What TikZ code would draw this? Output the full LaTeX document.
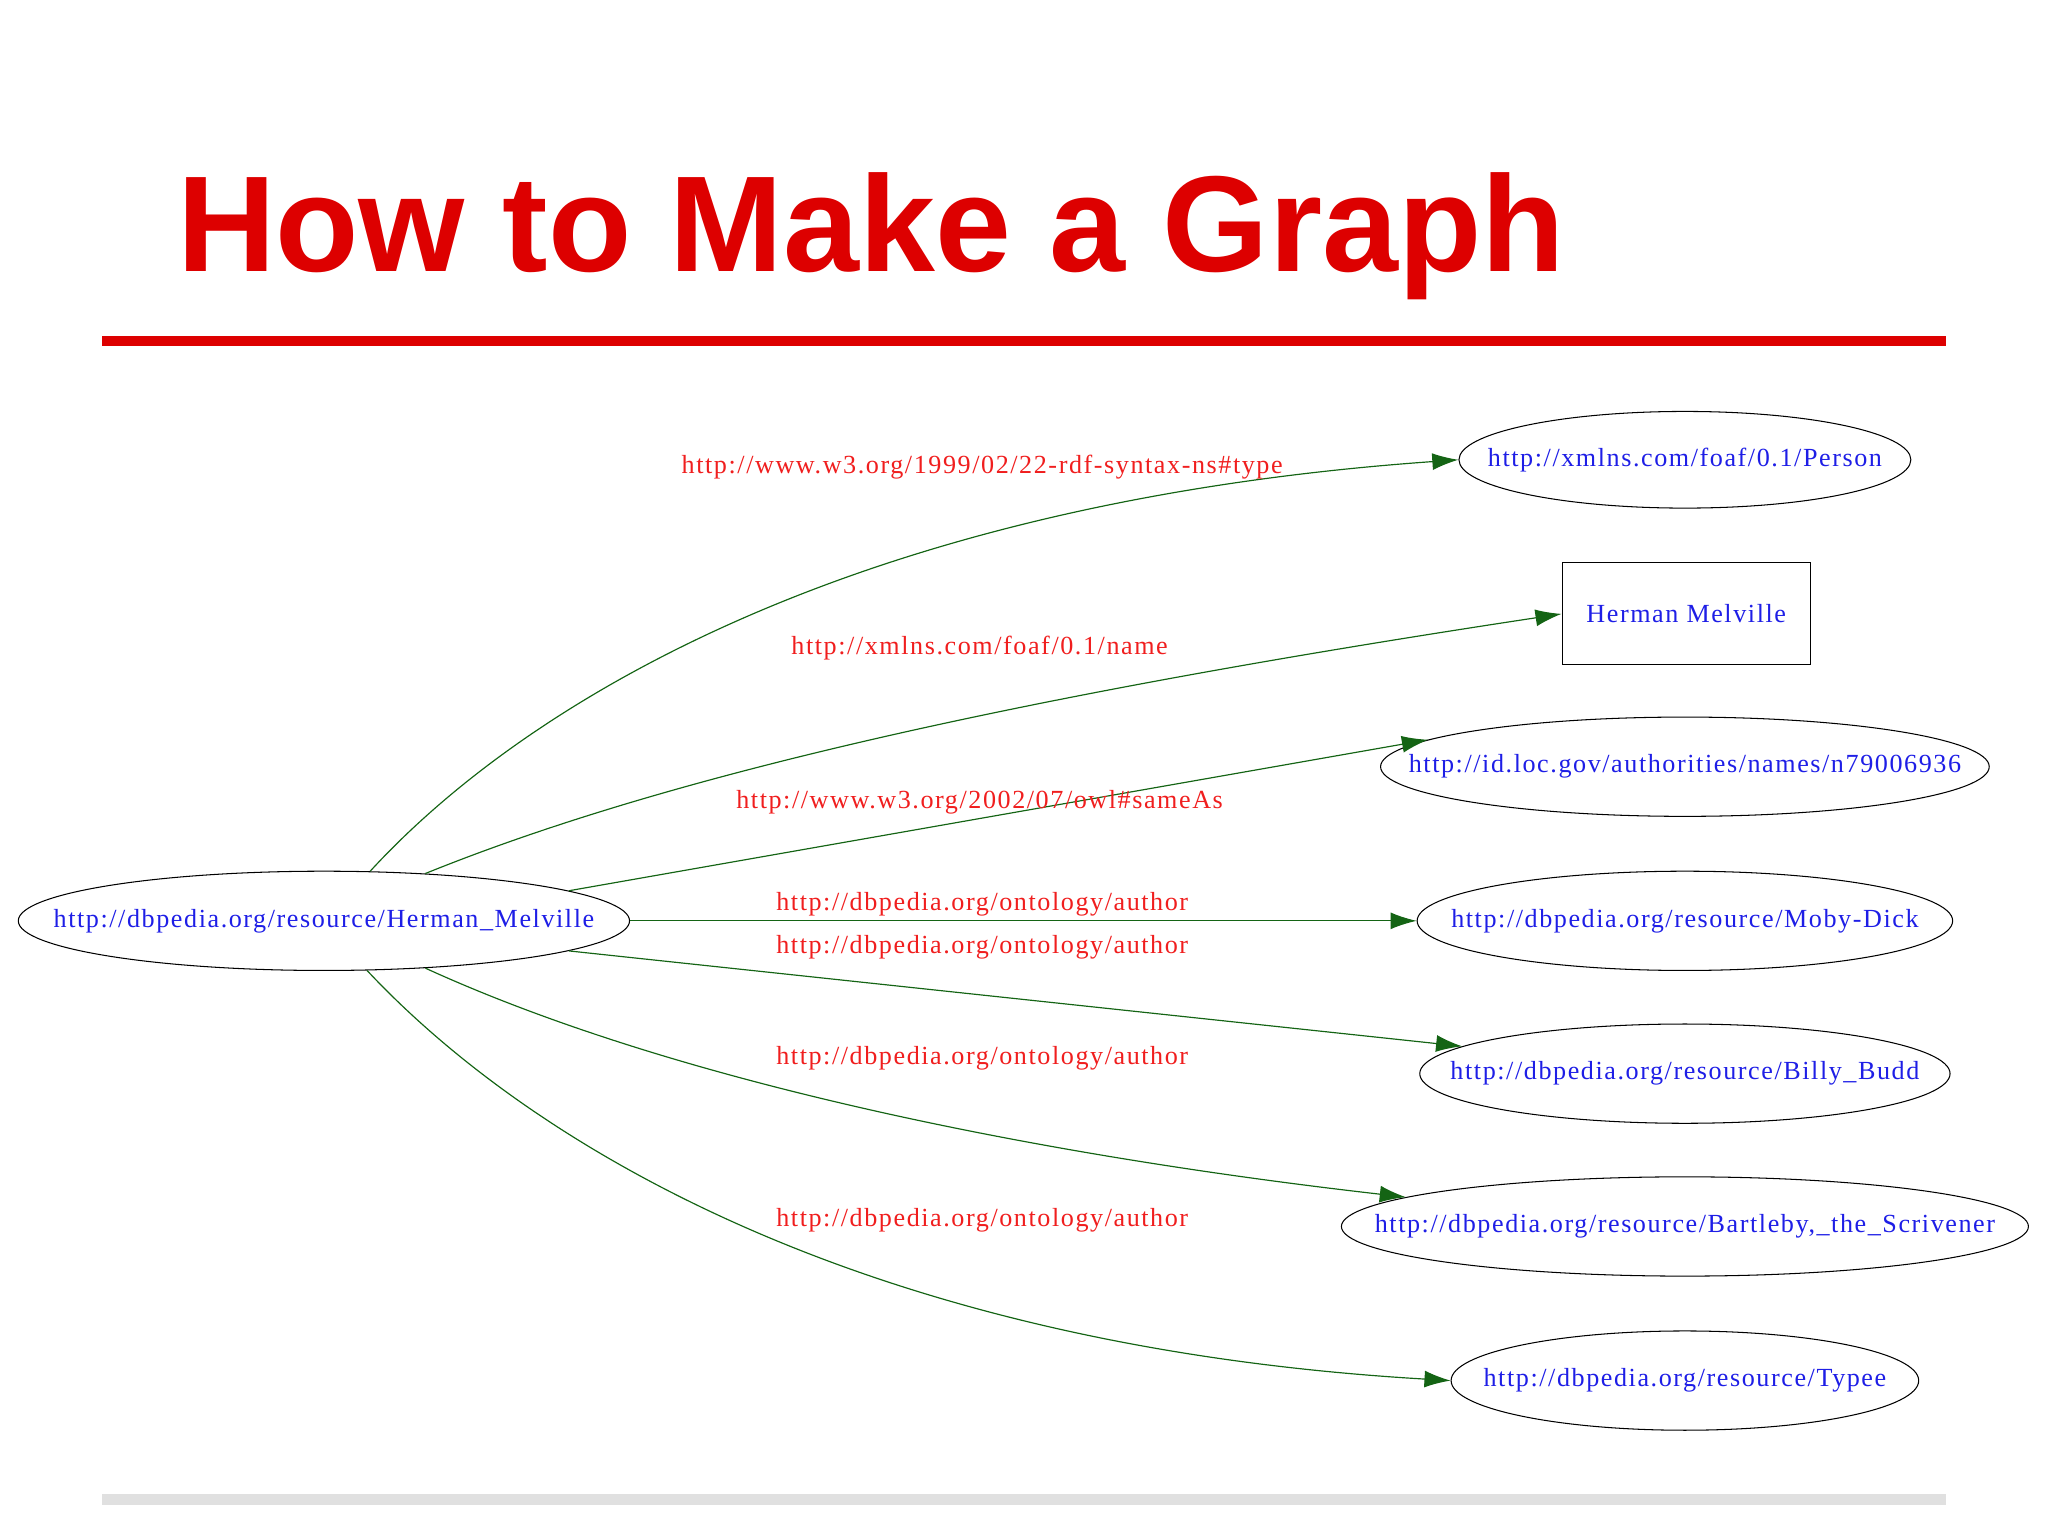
\documentclass[tikz,border=0pt]{standalone}
\usepackage{fontspec}
\setmainfont{Liberation Serif}[LetterSpace=6]
\newfontfamily\titlefont{Liberation Sans}
\usetikzlibrary{shapes.geometric,arrows.meta}
\definecolor{tred}{RGB}{221,0,0}
\definecolor{egreen}{RGB}{20,100,20}
\definecolor{nblue}{RGB}{30,30,230}
\definecolor{lred}{RGB}{240,30,30}
\begin{document}
\begin{tikzpicture}[x=1pt,y=-1pt,
  ell/.style={ellipse,draw,thick,inner xsep=-150pt,inner ysep=0pt,text=nblue,font=\fontsize{20}{22}\selectfont},
  elab/.style={text=lred,font=\fontsize{20}{22}\selectfont},
  edge/.style={draw=egreen,line width=0.9pt,-{Latex[length=20pt,width=13pt]}}]
\useasboundingbox (0,0) rectangle (1568,1176);
\node[anchor=base west,text=tred,font=\titlefont\bfseries\fontsize{104.5}{120}\selectfont] (title) at (132,208) {How to Make a Graph};
\fill[tred] (78,257) rectangle (1490,265);
\fill[black!12] (78,1144) rectangle (1490,1152);
\node[ell,minimum width=468pt,minimum height=76pt] (src) at (248,705) {http://dbpedia.org/resource/Herman\_Melville};
\node[ell,minimum width=346pt,minimum height=74pt] (p) at (1290,352) {http://xmlns.com/foaf/0.1/Person};
\node[draw,thick,text=nblue,font=\fontsize{20}{22}\selectfont,minimum width=190pt,minimum height=78pt] (n) at (1291,470) {Herman Melville};
\node[ell,minimum width=466pt,minimum height=76pt] (l) at (1290,587) {http://id.loc.gov/authorities/names/n79006936};
\node[ell,minimum width=410pt,minimum height=76pt] (m) at (1290,705) {http://dbpedia.org/resource/Moby-Dick};
\node[ell,minimum width=406pt,minimum height=76pt] (b) at (1290,822) {http://dbpedia.org/resource/Billy\_Budd};
\node[ell,minimum width=526pt,minimum height=76pt] (s) at (1290,939) {http://dbpedia.org/resource/Bartleby,\_the\_Scrivener};
\node[ell,minimum width=358pt,minimum height=76pt] (t) at (1290,1057) {http://dbpedia.org/resource/Typee};
\draw[edge] (src.47) .. controls (400,540) and (650,385) .. (p.west);
\draw[edge] (src.25) .. controls (520,590) and (800,530) .. (n.west);
\draw[edge] (src.7) -- (l.174);
\draw[edge] (src.east) -- (m.west);
\draw[edge] (src.-7) -- (b.173);
\draw[edge] (src.-25) .. controls (520,830) and (800,885) .. (s.174);
\draw[edge] (src.-49) .. controls (400,870) and (650,1030) .. (t.west);
\node[elab] (l1) at (752,358) {http://www.w3.org/1999/02/22-rdf-syntax-ns\#type};
\node[elab] (l2) at (750,496) {http://xmlns.com/foaf/0.1/name};
\node[elab] (l3) at (750,614) {http://www.w3.org/2002/07/owl\#sameAs};
\node[elab] (l4) at (752,692) {http://dbpedia.org/ontology/author};
\node[elab] (l5) at (752,725) {http://dbpedia.org/ontology/author};
\node[elab] (l6) at (752,810) {http://dbpedia.org/ontology/author};
\node[elab] (l7) at (752,934) {http://dbpedia.org/ontology/author};
\end{tikzpicture}
\end{document}
